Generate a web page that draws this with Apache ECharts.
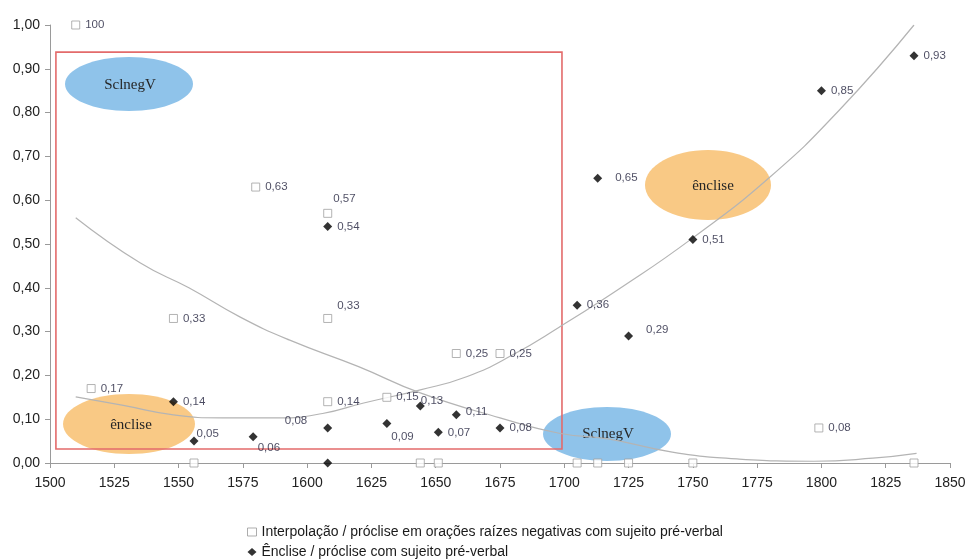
<!DOCTYPE html>
<html>
<head>
<meta charset="utf-8">
<script src="https://cdn.jsdelivr.net/npm/echarts@6/dist/echarts.min.js"></script>
<style>
  html, body { margin: 0; padding: 0; background: #fff; }
  #chart { width: 970px; height: 559px; }
</style>
</head>
<body>
<div id="chart"></div>
<script>
// Interpolação / próclise em orações raízes negativas com sujeito pré-verbal
const squareYears  = [1510, 1516, 1548, 1556, 1580, 1608, 1608, 1608, 1631, 1644, 1651, 1658, 1675, 1705, 1713, 1725, 1750, 1799, 1836];
const squareValues = [1.00, 0.17, 0.33, 0.00, 0.63, 0.57, 0.33, 0.14, 0.15, 0.00, 0.00, 0.25, 0.25, 0.00, 0.00, 0.00, 0.00, 0.08, 0.00];

// Ênclise / próclise com sujeito pré-verbal
const diamondYears  = [1548, 1556, 1579, 1608, 1608, 1608, 1631, 1644, 1651, 1658, 1675, 1705, 1713, 1725, 1750, 1800, 1836];
const diamondValues = [0.14, 0.05, 0.06, 0.54, 0.08, 0.00, 0.09, 0.13, 0.07, 0.11, 0.08, 0.36, 0.65, 0.29, 0.51, 0.85, 0.93];

// Trend curves (year, value)
const trendDownYears  = [1510, 1535, 1554, 1574, 1593, 1620, 1644, 1675, 1698, 1717, 1742, 1768, 1797, 1820, 1837];
const trendDownValues = [0.56, 0.457, 0.40, 0.333, 0.281, 0.22, 0.16, 0.103, 0.068, 0.055, 0.025, 0.009, 0.004, 0.011, 0.022];
const trendUpYears  = [1510, 1528, 1548, 1567, 1589, 1606, 1622, 1644, 1662, 1680, 1698, 1722, 1750, 1780, 1807, 1836];
const trendUpValues = [0.151, 0.132, 0.11, 0.103, 0.103, 0.113, 0.137, 0.167, 0.197, 0.247, 0.31, 0.40, 0.514, 0.653, 0.806, 1.00];

const seriesNames = [
  'Interpolação / próclise em orações raízes negativas com sujeito pré-verbal',
  'Ênclise / próclise com sujeito pré-verbal'
];

// Highlighted period (years / values)
const boxYears  = [1502.3, 1699.1];
const boxValues = [0.938, 0.032];

const xTicks = { min: 1500, max: 1850, step: 25 };
const yTicks = { min: 0, max: 1, step: 0.1 };

const fmt = v => v.toFixed(2).replace('.', ',');
const pointLabel = v => (v === 0 ? '' : (v === 1 ? '100' : fmt(v)));

// label placement tweaks (by point index)
const squareLabelOffsets = {
  5: [-4, -15],
  6: [0, -13]
};
const diamondLabelOffsets = {
  1: [-7, -7],
  2: [-5, 11],
  4: 'left',
  6: [-5, 13],
  7: [-9, -5],
  9: [0, -3],
  12: [8, 0],
  13: [8, -6]
};

const labelBase = {
  show: true,
  position: 'right',
  distance: 5,
  fontFamily: '"Liberation Sans", Arial, sans-serif',
  fontSize: 11.5,
  color: '#1e1e3a'
};

function buildPoints(years, values, tweaks) {
  return years.map((y, i) => {
    const item = { value: [y, values[i]] };
    const t = tweaks[i];
    const label = Object.assign({}, labelBase, { formatter: pointLabel(values[i]) });
    if (t === 'left') {
      label.position = 'left';
      label.offset = [-11, -7];
    } else if (t) {
      label.offset = t;
    }
    item.label = label;
    return item;
  });
}

const zip = (a, b) => a.map((v, i) => [v, b[i]]);

const chart = echarts.init(document.getElementById('chart'), null, { renderer: 'canvas' });

const serif = '15px "Liberation Serif", "Times New Roman", serif';

const option = {
  backgroundColor: '#fff',
  animation: false,
  grid: { left: 50, right: 20, top: 25, bottom: 96, containLabel: false },
  xAxis: {
    type: 'value',
    min: xTicks.min, max: xTicks.max, interval: xTicks.step,
    axisLine: { show: true, onZero: false, lineStyle: { color: '#9a9a9a', width: 1 } },
    axisTick: { show: true, length: 5, lineStyle: { color: '#9a9a9a' } },
    splitLine: { show: false },
    axisLabel: {
      margin: 13, color: '#222', fontSize: 14,
      fontFamily: '"Liberation Sans", Arial, sans-serif',
      formatter: v => String(v)
    }
  },
  yAxis: {
    type: 'value',
    min: yTicks.min, max: yTicks.max, interval: yTicks.step,
    axisLine: { show: true, lineStyle: { color: '#9a9a9a', width: 1 } },
    axisTick: { show: true, length: 5, lineStyle: { color: '#9a9a9a' } },
    splitLine: { show: false },
    axisLabel: {
      margin: 10, color: '#222', fontSize: 14,
      fontFamily: '"Liberation Sans", Arial, sans-serif',
      formatter: v => fmt(v)
    }
  },
  legend: {
    orient: 'vertical',
    left: 247, top: 525, height: 80,
    padding: 0,
    itemWidth: 9, itemHeight: 8, itemGap: 6,
    textStyle: { fontSize: 14, color: '#1a1a1a', fontFamily: '"Liberation Sans", Arial, sans-serif' },
    data: [
      { name: seriesNames[0], icon: 'rect', itemStyle: { color: '#fff', borderColor: '#999', borderWidth: 1 } },
      { name: seriesNames[1], icon: 'diamond', itemStyle: { color: '#000' } }
    ]
  },
  graphic: [
    {
      type: 'group', z: 1, silent: true,
      children: [
        { type: 'ellipse', shape: { cx: 129, cy: 84, rx: 64, ry: 27 }, style: { fill: '#8fc3ea' } },
        { type: 'text', x: 130, y: 85, style: { text: 'SclnegV', font: serif, fill: '#262626', align: 'center', verticalAlign: 'middle' } },
        { type: 'ellipse', shape: { cx: 129, cy: 424, rx: 66, ry: 30 }, style: { fill: '#f9c985' } },
        { type: 'text', x: 131, y: 425, style: { text: 'ênclise', font: serif, fill: '#262626', align: 'center', verticalAlign: 'middle' } },
        { type: 'ellipse', shape: { cx: 708, cy: 185, rx: 63, ry: 35 }, style: { fill: '#f9c985' } },
        { type: 'text', x: 713, y: 186, style: { text: 'ênclise', font: serif, fill: '#262626', align: 'center', verticalAlign: 'middle' } },
        { type: 'ellipse', shape: { cx: 607, cy: 434, rx: 64, ry: 27 }, style: { fill: '#8fc3ea' } },
        { type: 'text', x: 608, y: 434, style: { text: 'SclnegV', font: serif, fill: '#262626', align: 'center', verticalAlign: 'middle' } }
      ]
    }
  ],
  series: [
    {
      name: 'trend-down',
      type: 'line',
      data: zip(trendDownYears, trendDownValues),
      smooth: 0.5,
      showSymbol: false,
      silent: true,
      z: 3,
      lineStyle: { color: '#b4b4b4', width: 1.2 }
    },
    {
      name: 'trend-up',
      type: 'line',
      data: zip(trendUpYears, trendUpValues),
      smooth: 0.5,
      showSymbol: false,
      silent: true,
      z: 3,
      lineStyle: { color: '#b4b4b4', width: 1.2 }
    },
    {
      name: seriesNames[0],
      type: 'scatter',
      symbol: 'rect',
      symbolSize: 8,
      z: 4,
      itemStyle: { color: '#fff', borderColor: '#a0a0a0', borderWidth: 1 },
      data: buildPoints(squareYears, squareValues, squareLabelOffsets),
      markArea: {
        silent: true,
        itemStyle: { color: 'rgba(0,0,0,0)', borderColor: '#e36b6b', borderWidth: 1.6 },
        data: [[{ coord: [boxYears[0], boxValues[0]] }, { coord: [boxYears[1], boxValues[1]] }]]
      }
    },
    {
      name: seriesNames[1],
      type: 'scatter',
      symbol: 'diamond',
      symbolSize: 9,
      z: 5,
      itemStyle: { color: '#000' },
      data: buildPoints(diamondYears, diamondValues, diamondLabelOffsets)
    }
  ]
};

chart.setOption(option);
</script>
</body>
</html>
